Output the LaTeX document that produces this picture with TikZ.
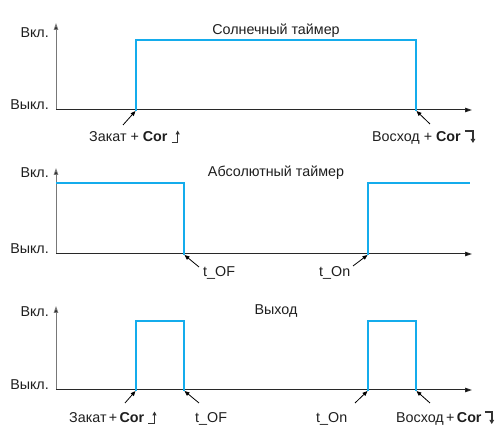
\documentclass[tikz,border=0pt]{standalone}
\usepackage{fontspec}
\setmainfont{Liberation Sans}
\usetikzlibrary{arrows.meta}
\definecolor{sig}{RGB}{20,172,236}
\definecolor{yax}{RGB}{120,120,120}
\definecolor{xax}{RGB}{40,40,40}
\definecolor{txt}{RGB}{30,30,30}
\begin{document}
\begin{tikzpicture}[x=1pt,y=-1pt,
  every node/.style={font=\fontsize{14.3}{17}\selectfont, text=txt, inner sep=0pt},
  yaxis/.style={yax, line width=1pt, -{Triangle[length=7pt,width=4.5pt,fill=black]}},
  xaxis/.style={xax, line width=1pt, -{Triangle[length=7pt,width=4.5pt,fill=black]}},
  signal/.style={sig, line width=2.6pt, line join=miter, line cap=rect},
  ptr/.style={black, line width=0.8pt, -{Triangle[length=5pt,width=4pt]}},
  lvl/.style={anchor=base east},
  ttl/.style={anchor=base},
  lbl/.style={anchor=base west},
  risesym/.style={black!80, line width=1.1pt, -{Triangle[length=4pt,width=4pt]}},
  fallsym/.style={black!80, line width=1.6pt, -{Triangle[length=4pt,width=4.5pt]}}]
\useasboundingbox (0,0) rectangle (499,430);

% ---------- Panel 1 ----------
\coordinate (o1) at (56,110);
\coordinate (y1) at (56,23);
\coordinate (x1) at (472,110);
\draw[yaxis] (o1) -- (y1);
\draw[xaxis] (o1) -- (x1);
\coordinate (r1) at (136,110);
\coordinate (f1) at (416,110);
\draw[signal] (r1) -- (136,40) -- (416,40) -- (f1);
\node[lvl] (on1) at (49,38) {Вкл.};
\node[lvl] (off1) at (49,110) {Выкл.};
\node[ttl] (t1) at (276,35) {Солнечный таймер};
\node[lbl] (la1) at (89,142) {Закат + \textbf{Cor}};
\node[lbl] (lb1) at (372,142) {Восход + \textbf{Cor}};
\draw[risesym] ([xshift=4pt,yshift=-0.5pt]la1.base east) -- ++(6,0) -- ++(0,-12);
\draw[fallsym] ([xshift=4pt,yshift=11pt]lb1.base east) -- ++(8,0) -- ++(0,12);
\coordinate (pa1) at (123,125);
\coordinate (pb1) at (430,124);
\draw[ptr] (pa1) -- ([xshift=-0.5pt,yshift=-1pt]r1);
\draw[ptr] (pb1) -- ([xshift=0.5pt,yshift=-1pt]f1);

% ---------- Panel 2 ----------
\coordinate (o2) at (56,254);
\coordinate (y2) at (56,168);
\coordinate (x2) at (472,254);
\draw[yaxis] (o2) -- (y2);
\draw[xaxis] (o2) -- (x2);
\coordinate (f2) at (184,254);
\coordinate (r2) at (368,254);
\draw[signal] (57,183) -- (184,183) -- (f2);
\draw[signal] (r2) -- (368,183) -- (469,183);
\node[lvl] (on2) at (49,178) {Вкл.};
\node[lvl] (off2) at (49,254) {Выкл.};
\node[ttl] (t2) at (276,177) {Абсолютный таймер};
\node[lbl] (la2) at (203,277) {t\_OF};
\node[lbl] (lb2) at (319,277) {t\_On};
\coordinate (pa2) at (199,267);
\coordinate (pb2) at (353,266);
\draw[ptr] (pa2) -- ([xshift=0.5pt,yshift=-1pt]f2);
\draw[ptr] (pb2) -- ([xshift=-0.5pt,yshift=-1pt]r2);

% ---------- Panel 3 ----------
\coordinate (o3) at (56,390);
\coordinate (y3) at (56,306);
\coordinate (x3) at (472,390);
\draw[yaxis] (o3) -- (y3);
\draw[xaxis] (o3) -- (x3);
\coordinate (r3a) at (136,390);
\coordinate (f3a) at (184,390);
\coordinate (r3b) at (368,390);
\coordinate (f3b) at (416,390);
\draw[signal] (r3a) -- (136,321) -- (184,321) -- (f3a);
\draw[signal] (r3b) -- (368,321) -- (416,321) -- (f3b);
\node[lvl] (on3) at (49,317) {Вкл.};
\node[lvl] (off3) at (49,390) {Выкл.};
\node[ttl] (t3) at (276,315) {Выход};
\node[lbl] (la3) at (69,423) {Закат\,+\,\textbf{Cor}};
\node[lbl] (lb3) at (195,423) {t\_OF};
\node[lbl] (lc3) at (316,423) {t\_On};
\node[lbl] (ld3) at (396,423) {Восход\,+\,\textbf{Cor}};
\draw[risesym] ([xshift=4pt,yshift=-0.5pt]la3.base east) -- ++(6,0) -- ++(0,-12);
\draw[fallsym] ([xshift=3pt,yshift=11pt]ld3.base east) -- ++(7,0) -- ++(0,12);
\coordinate (pa3) at (125,403);
\coordinate (pb3) at (199,403);
\coordinate (pc3) at (355,403);
\coordinate (pd3) at (430,403);
\draw[ptr] (pa3) -- ([xshift=-0.5pt,yshift=-1pt]r3a);
\draw[ptr] (pb3) -- ([xshift=0.5pt,yshift=-1pt]f3a);
\draw[ptr] (pc3) -- ([xshift=-0.5pt,yshift=-1pt]r3b);
\draw[ptr] (pd3) -- ([xshift=0.5pt,yshift=-1pt]f3b);
\end{tikzpicture}
\end{document}
